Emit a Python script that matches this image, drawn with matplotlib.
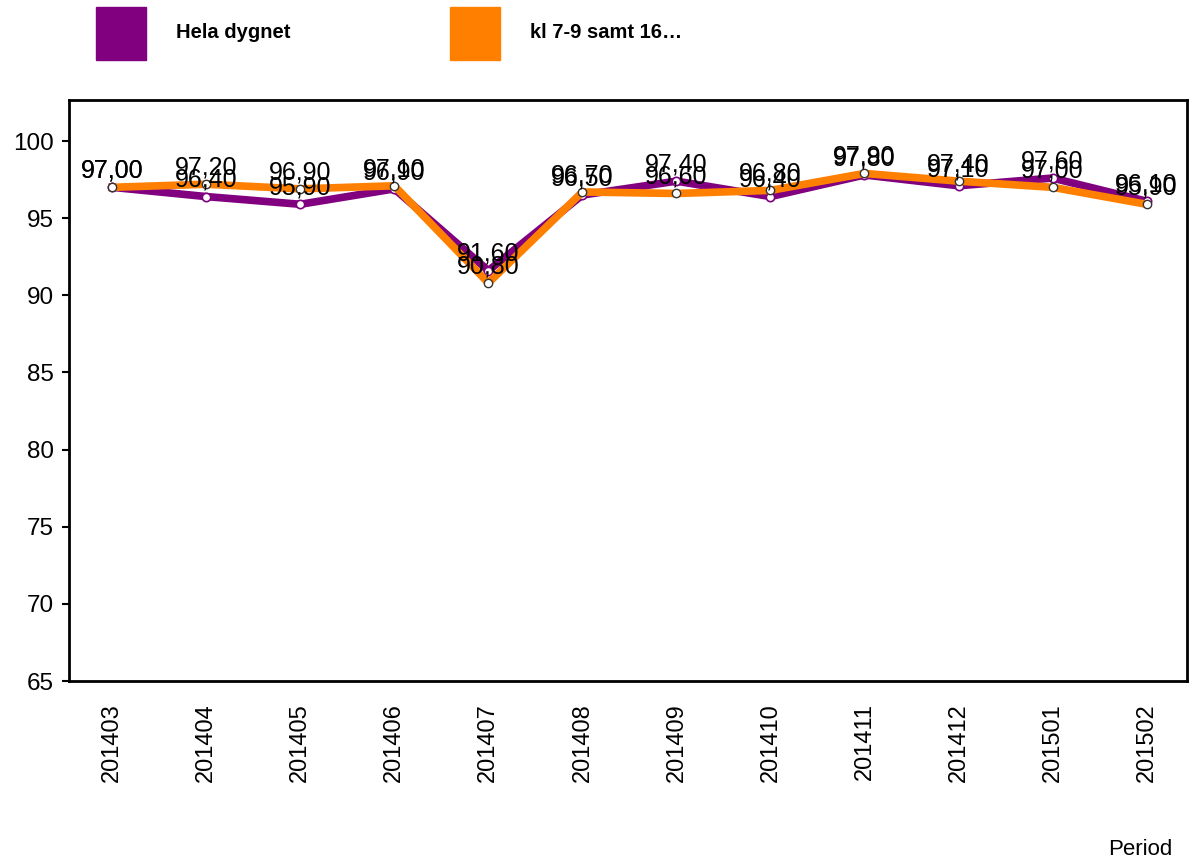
import matplotlib.pyplot as plt
from matplotlib.patches import Rectangle

plt.rcParams['font.family'] = ['Liberation Sans', 'DejaVu Sans']

periods = ['201403', '201404', '201405', '201406', '201407', '201408',
           '201409', '201410', '201411', '201412', '201501', '201502']
hela = [97.0, 96.4, 95.9, 96.9, 91.6, 96.5, 97.4, 96.4, 97.8, 97.1, 97.6, 96.1]
rush = [97.0, 97.2, 96.9, 97.1, 90.8, 96.7, 96.6, 96.8, 97.9, 97.4, 97.0, 95.9]
names = ['Hela dygnet', 'kl 7-9 samt 16\u2026']
colors = ['#800080', '#ff8000']

fig = plt.figure(figsize=(11.92, 8.63), dpi=100)
ax = fig.add_axes([69/1192, 1 - 681/863, (1187-69)/1192, (681-100)/863])

x = range(len(periods))
ax.plot(x, hela, color=colors[0], lw=5.5, marker='o', ms=6,
        mfc='white', mec=colors[0], mew=1.2, zorder=3)
ax.plot(x, rush, color=colors[1], lw=5.5, marker='o', ms=6,
        mfc='white', mec='#333333', mew=1.0, zorder=4)

# data labels, decimal comma
for series in (hela, rush):
    for i, v in zip(x, series):
        ax.annotate(('%.2f' % v).replace('.', ','), (i, v), xytext=(0, 7),
                    textcoords='offset points', ha='center', va='baseline',
                    fontsize=18, zorder=5)

ax.set_xlim(-0.46, 11.43)
ax.set_ylim(65, 102.66)
ax.set_yticks(range(65, 101, 5))
ax.set_xticks(list(x))
ax.set_xticklabels(periods, rotation=90, fontsize=17)
ax.tick_params(axis='y', labelsize=17.5, length=5, width=1.5, direction='out', pad=6)
ax.tick_params(axis='x', length=0, pad=16)
for s in ax.spines.values():
    s.set_linewidth(2)

# legend at top
for j, (nm, c) in enumerate(zip(names, colors)):
    x0 = (96 + j * 354) / 1192
    fig.patches.append(Rectangle((x0, 1 - 60/863), 50/1192, 53/863,
                                 transform=fig.transFigure, color=c))
    fig.text(x0 + 80/1192, 1 - 33/863, nm, fontsize=14.5, fontweight='bold',
             va='center', ha='left')

fig.text(1172/1192, 1 - 849/863, 'Period', fontsize=16, ha='right', va='center')

plt.savefig('out.png', dpi=100)
